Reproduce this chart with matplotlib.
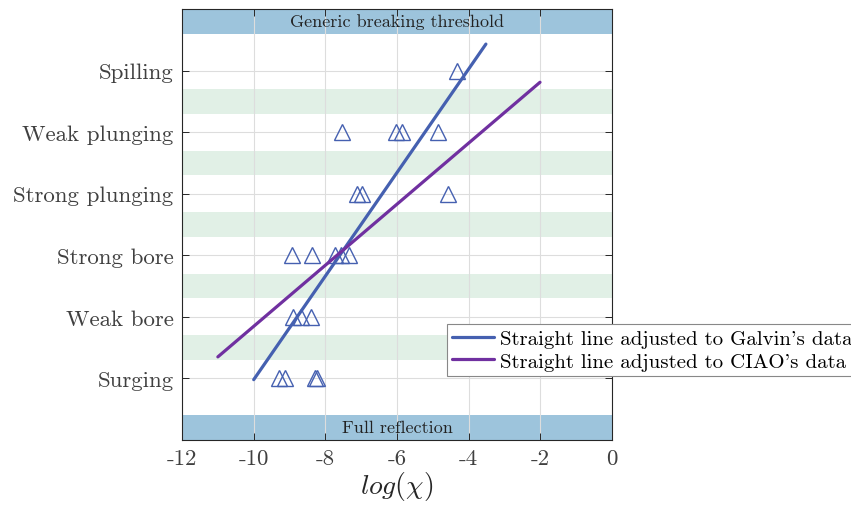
import matplotlib
matplotlib.use("Agg")
import matplotlib.pyplot as plt

plt.rcParams['font.family'] = ['cmr10', 'DejaVu Serif']
plt.rcParams['mathtext.fontset'] = 'cm'
plt.rcParams['axes.unicode_minus'] = False
plt.rcParams['axes.formatter.use_mathtext'] = True

# breaker types, bottom to top
categories = ['Surging', 'Weak bore', 'Strong bore', 'Strong plunging',
              'Weak plunging', 'Spilling']

# log(chi) of the observations for each breaker type
obs_x = {
    'Surging': [-9.29, -9.13, -8.29, -8.22],
    'Weak bore': [-8.89, -8.69, -8.40],
    'Strong bore': [-8.92, -8.37, -7.72, -7.55, -7.33],
    'Strong plunging': [-7.13, -6.97, -4.57],
    'Weak plunging': [-7.54, -6.03, -5.87, -4.87],
    'Spilling': [-4.33],
}

# fitted straight lines (end points)
galvin_x = [-10.0, -3.52]
galvin_y = [0.98, 6.43]
ciao_x = [-11.0, -2.01]
ciao_y = [1.35, 5.81]

xticks = [-12, -10, -8, -6, -4, -2, 0]

blue = '#4560b0'
purple = '#7030a0'
band_blue = '#9dc4dc'
band_green = '#e1f0e6'

fig = plt.figure(figsize=(8.51, 5.10), dpi=100)
ax = fig.add_axes([0.2139, 0.1353, 0.5053, 0.8451])

# shaded bands between categories
for k in range(1, len(categories)):
    ax.axhspan(k + 0.3, k + 0.7, color=band_green, lw=0, zorder=0.1)
ax.axhspan(0, 0.4, color=band_blue, lw=0, zorder=0.1)
ax.axhspan(6.6, 7, color=band_blue, lw=0, zorder=0.1)
ax.text(-6, 6.8, 'Generic breaking threshold', ha='center', va='center',
        fontsize=13, color='#222222', zorder=3)
ax.text(-6, 0.2, 'Full reflection', ha='center', va='center',
        fontsize=13, color='#222222', zorder=3)

for i, cat in enumerate(categories):
    xs = obs_x[cat]
    ax.plot(xs, [i + 1] * len(xs), ls='none', marker='^', ms=11,
            mfc='none', mec=blue, mew=1.0, zorder=4)

ax.plot(galvin_x, galvin_y, color=blue, lw=2.3, solid_capstyle='round',
        label="Straight line adjusted to Galvin's data", zorder=5)
ax.plot(ciao_x, ciao_y, color=purple, lw=2.3, solid_capstyle='round',
        label="Straight line adjusted to CIAO's data", zorder=5)

ax.set_xlim(-12, 0)
ax.set_ylim(0, 7)
ax.set_xticks(xticks)
ax.set_xticklabels([str(t) for t in xticks])
ax.set_yticks(range(1, len(categories) + 1))
ax.set_yticklabels(categories)
ax.set_axisbelow(True)
ax.grid(True, color='#dddddd', lw=0.8)
ax.tick_params(direction='in', length=5, width=0.7, top=True, right=True,
               labelsize=16.5, colors='#262626', labelcolor='#404040', pad=6)
for s in ax.spines.values():
    s.set_color('#262626')
    s.set_linewidth(0.8)
ax.set_xlabel(r'$log(\chi)$', fontsize=20, color='#262626', labelpad=1)

leg = ax.legend(loc='lower left', bbox_to_anchor=(0.525, 0.261),
                bbox_transform=fig.transFigure, borderaxespad=0,
                fontsize=15, fancybox=False, framealpha=1,
                edgecolor='#888888', handlelength=2.0, handletextpad=0.3,
                borderpad=0.25, labelspacing=0.2)
leg.get_frame().set_linewidth(0.8)
leg.set_zorder(10)

fig.savefig('out.png', dpi=100)
